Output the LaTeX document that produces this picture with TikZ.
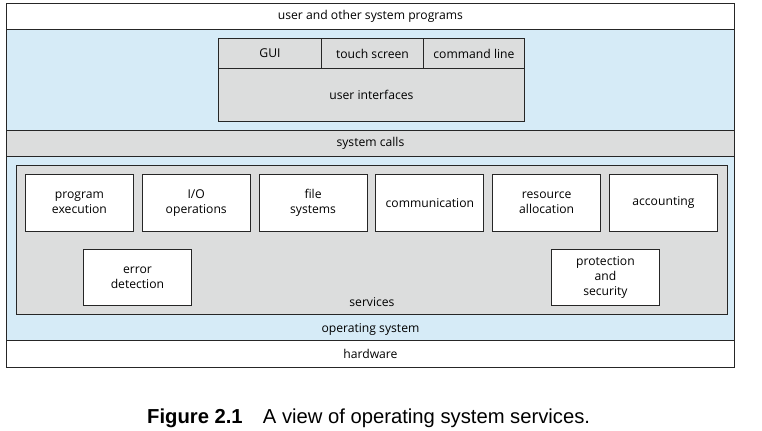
\documentclass[tikz,border=0pt]{standalone}
\usepackage{fontspec}
\setmainfont{Open Sans}
\newfontfamily\capfont{Liberation Sans}
\usetikzlibrary{positioning}

\definecolor{osblue}{RGB}{214,235,247}
\definecolor{layergray}{RGB}{220,221,221}

\newcommand{\diafont}{\fontsize{12.2}{15}\selectfont}

\tikzset{
  layer/.style={draw=black!85, line width=0.9bp, anchor=north west, inner sep=0pt,
    font=\diafont, align=center},
  svcbox/.style={layer, fill=white, minimum width=108bp, minimum height=57bp},
  uibox/.style={layer, fill=layergray, minimum height=30bp}
}

\begin{document}
\begin{tikzpicture}[x=1bp, y=-1bp]
  \useasboundingbox (0,0) rectangle (762,430);

  % operating system (blue background)
  \node[layer, fill=osblue, minimum width=728bp, minimum height=311bp] (os) at (6,29) {};
  \node[font=\diafont, above=5bp of os.south, inner sep=0pt] (oslbl) {operating system};

  % top and bottom layers
  \node[layer, fill=white, minimum width=728bp, minimum height=26bp] (usr) at (6,3) {user and other system programs};
  \node[layer, fill=layergray, minimum width=728bp, minimum height=26bp] (sysc) at (6,130) {system calls};
  \node[layer, fill=white, minimum width=728bp, minimum height=27bp] (hw) at (6,340) {hardware};

  % user interfaces
  \node[uibox, minimum width=103bp] (gui) at (218,38) {GUI};
  \node[uibox, minimum width=102bp] (touch) at (321,38) {touch screen};
  \node[uibox, minimum width=101bp] (cmdl) at (423,38) {command line};
  \node[layer, fill=layergray, minimum width=306bp, minimum height=53bp] (uif) at (218,68) {user interfaces};

  % services
  \node[layer, fill=layergray, minimum width=711bp, minimum height=149bp] (svc) at (16,165) {};
  \node[font=\diafont, above=8bp of svc.south, inner sep=0pt] (svclbl) {services};

  \foreach \nm/\txt [count=\i from 0] in {pexec/{program\\execution}, ioop/{I/O\\operations},
      fsys/{file\\systems}, comm/{communication}, ralloc/{resource\\allocation}, acct/{accounting}}
    \node[svcbox] (\nm) at (25+116.8*\i,174) {\txt};

  \node[svcbox, minimum height=56bp] (errdet) at (83,249) {error\\detection};
  \node[svcbox, minimum height=56bp] (protsec) at (551,249) {protection\\and\\security};

  % caption
  \node[font=\capfont\fontsize{20.3}{23}\selectfont, anchor=base west, inner sep=0pt] (cap) at (147,423)
    {\textbf{Figure 2.1}\quad A view of operating system services.};
\end{tikzpicture}
\end{document}
